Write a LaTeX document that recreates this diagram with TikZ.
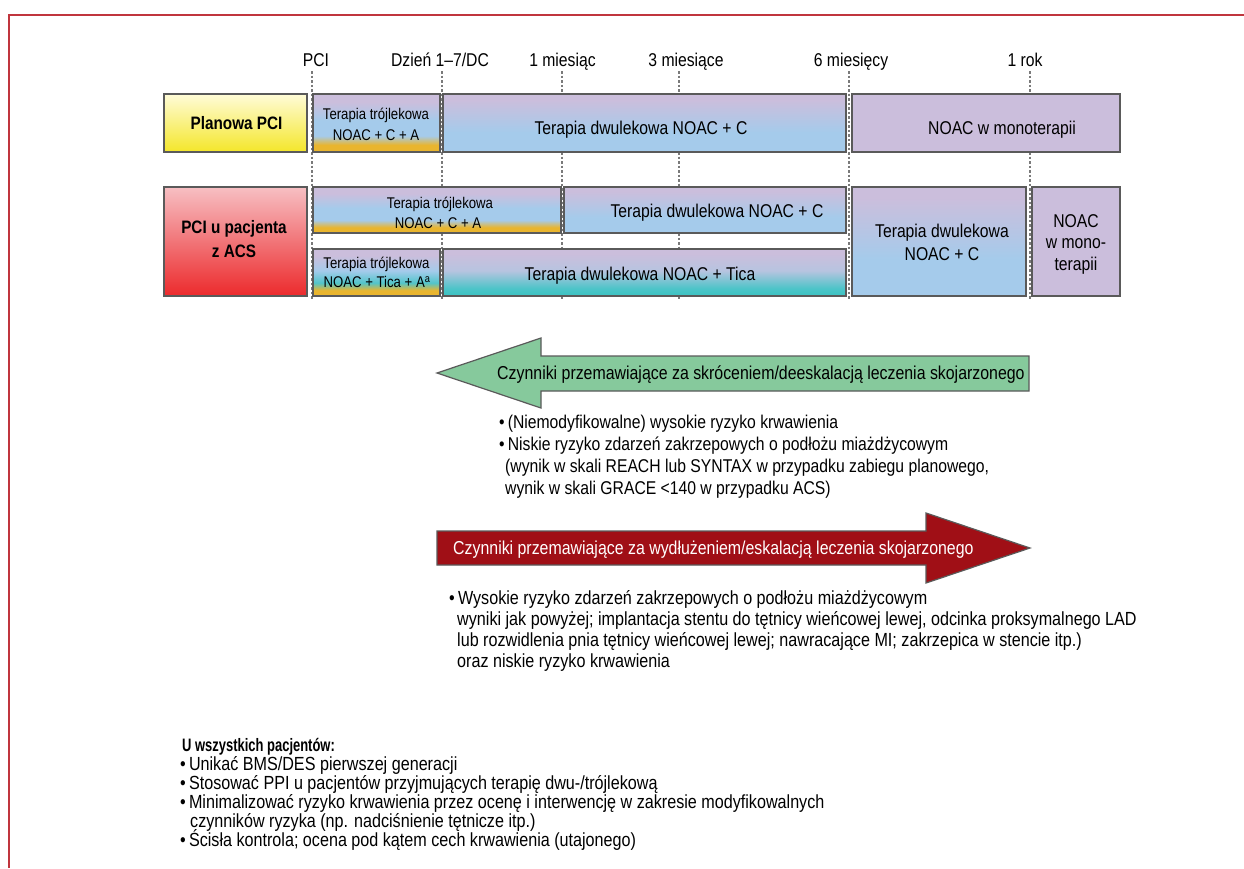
\documentclass[tikz,border=0pt]{standalone}
\usepackage{fontspec}
\setmainfont{Liberation Sans}[FakeStretch=0.85]
\newfontfamily\narrowfont{Liberation Sans}[FakeStretch=0.72]
\usetikzlibrary{calc}

\definecolor{framered}{HTML}{C0353D}
\definecolor{lav}{HTML}{CBBEDC}
\definecolor{lblue}{HTML}{A5CBEB}
\definecolor{gold}{HTML}{E9B52E}
\definecolor{tealc}{HTML}{3CC3C2}
\definecolor{ylwtop}{HTML}{FFFCD8}
\definecolor{ylwbot}{HTML}{F4E62A}
\definecolor{pinktop}{HTML}{F7BFC3}
\definecolor{redbot}{HTML}{EC2A2C}
\definecolor{greenarr}{HTML}{86C99C}
\definecolor{redarr}{HTML}{A00F16}
\definecolor{edgegray}{HTML}{5A5A5A}
\definecolor{dashgray}{HTML}{7A7A7A}
\definecolor{midblue}{HTML}{B7C4E0}

% vertical shadings: the node box maps to 25bp (bottom) .. 75bp (top)
\pgfdeclareverticalshading{tripleshade}{100bp}{color(0bp)=(gold); color(25bp)=(gold); color(31bp)=(gold); color(39bp)=(lblue); color(52bp)=(lblue); color(68bp)=(lav); color(100bp)=(lav)}
\pgfdeclareverticalshading{ticatripleshade}{100bp}{color(0bp)=(gold); color(25bp)=(gold); color(31bp)=(gold); color(39bp)=(tealc!80!lblue); color(52bp)=(lblue); color(68bp)=(lav); color(100bp)=(lav)}
\pgfdeclareverticalshading{dualshade}{100bp}{color(0bp)=(lblue); color(25bp)=(lblue); color(42bp)=(lblue); color(70bp)=(lav); color(100bp)=(lav)}
\pgfdeclareverticalshading{ticashade}{100bp}{color(0bp)=(tealc); color(25bp)=(tealc); color(33bp)=(tealc!85!lblue); color(52bp)=(midblue); color(70bp)=(lav); color(100bp)=(lav)}
\pgfdeclareverticalshading{planshade}{100bp}{color(0bp)=(ylwbot); color(25bp)=(ylwbot); color(75bp)=(ylwtop); color(100bp)=(ylwtop)}
\pgfdeclareverticalshading{acsshade}{100bp}{color(0bp)=(redbot); color(25bp)=(redbot); color(75bp)=(pinktop); color(100bp)=(pinktop)}

\tikzset{
  seg/.style={draw=edgegray, line width=1.2pt, inner sep=0pt, outer sep=0pt},
  mono/.style={seg, fill=lav},
  txt/.style={inner sep=0pt, anchor=base, font=\fontsize{18.5}{22}\selectfont},
  smalltxt/.style={inner sep=0pt, anchor=base, font=\fontsize{15.5}{19}\selectfont},
  headtxt/.style={inner sep=0pt, anchor=base, font=\fontsize{18}{22}\selectfont\bfseries},
  ticklabel/.style={inner sep=0pt, anchor=base, font=\fontsize{18.5}{22}\selectfont},
  tick/.style={draw=dashgray, line width=1.4pt, dash pattern=on 2.5pt off 2pt},
  note/.style={inner sep=0pt, anchor=base west, font=\fontsize{19}{22}\selectfont},
  arrowtxt/.style={inner sep=0pt, anchor=base west, font=\fontsize{18.7}{22}\selectfont},
}

\begin{document}
\begin{tikzpicture}[x=1pt, y=-1pt]
\useasboundingbox (0,0) rectangle (1244,868);
\fill[white] (0,0) rectangle (1244,868);

% outer frame (left and top edges)
\draw[framered, line width=2pt] (9,868) -- (9,14.5) -- (1244,14.5);

% time axis labels
\node[ticklabel] (lPCI) at (316,66) {PCI};
\node[ticklabel] (lDC) at (440,66) {Dzień 1–7/DC};
\node[ticklabel] (l1m) at (562.5,66) {1 miesiąc};
\node[ticklabel] (l3m) at (686,66) {3 miesiące};
\node[ticklabel] (l6m) at (851,66) {6 miesięcy};
\node[ticklabel] (l1y) at (1025,66) {1 rok};

% dashed time markers
\coordinate (aPCI) at (312,71);  \coordinate (bPCI) at (312,300);
\coordinate (aDC)  at (442,71);  \coordinate (bDC)  at (442,300);
\coordinate (a1m)  at (562,71);  \coordinate (b1m)  at (562,300);
\coordinate (a3m)  at (679,71);  \coordinate (b3m)  at (679,300);
\coordinate (a6m)  at (849,71);  \coordinate (b6m)  at (849,300);
\coordinate (a1y)  at (1030,71); \coordinate (b1y)  at (1030,300);
\foreach \t in {PCI,DC,1m,3m,6m,1y} \draw[tick] (a\t) -- (b\t);

% row labels
\node[seg, shading=planshade, minimum width=143, minimum height=58] (plan) at (235.5,123) {};
\node[seg, shading=acsshade, minimum width=143, minimum height=109] (acs) at (235.5,241.5) {};
\node[headtxt] (planT) at (236.5,129) {Planowa PCI};
\node[headtxt] (acsT1) at (234,233) {PCI u pacjenta};
\node[headtxt] (acsT2) at (234,257) {z ACS};

% elective PCI row
\node[seg, shading=tripleshade, minimum width=127, minimum height=58] (t1) at (376.5,123) {};
\node[seg, shading=dualshade, minimum width=403, minimum height=58] (d1) at (644.5,123) {};
\node[mono, minimum width=268, minimum height=58] (m1) at (986,123) {};
\node[smalltxt] (t1a) at (376,119.5) {Terapia trójlekowa};
\node[smalltxt] (t1b) at (376,140) {NOAC + C + A};
\node[txt] (d1a) at (641,134) {Terapia dwulekowa NOAC + C};
\node[txt] (m1a) at (1002,134) {NOAC w monoterapii};

% ACS rows
\node[seg, shading=tripleshade, minimum width=248, minimum height=46] (t2) at (437,210) {};
\node[seg, shading=dualshade, minimum width=282, minimum height=46] (d2) at (705,210) {};
\node[seg, shading=ticatripleshade, minimum width=127, minimum height=47] (t3) at (376.5,272.5) {};
\node[seg, shading=ticashade, minimum width=403, minimum height=47] (d3) at (644.5,272.5) {};
\node[seg, shading=dualshade, minimum width=174, minimum height=109] (d4) at (939,241.5) {};
\node[mono, minimum width=88, minimum height=109] (m2) at (1076,241.5) {};

\node[smalltxt] (t2a) at (440,208) {Terapia trójlekowa};
\node[smalltxt] (t2b) at (438,228) {NOAC + C + A};
\node[txt] (d2a) at (717,217) {Terapia dwulekowa NOAC + C};
\node[smalltxt] (t3a) at (376.5,268) {Terapia trójlekowa};
\node[smalltxt] (t3b) at (377,287.5) {NOAC + Tica + A\textsuperscript{a}};
\node[txt] (d3a) at (640,280) {Terapia dwulekowa NOAC + Tica};
\node[txt] (d4a) at (942,237) {Terapia dwulekowa};
\node[txt] (d4b) at (942,260) {NOAC + C};
\node[txt] (m2a) at (1076,227) {NOAC};
\node[txt] (m2b) at (1076,248.5) {w mono-};
\node[txt] (m2c) at (1076,270) {terapii};

% de-escalation arrow (pointing left)
\draw[edgegray, line width=1.2pt, fill=greenarr]
  (437,373) -- (541,338) -- (541,356) -- (1029,356) -- (1029,391) -- (541,391) -- (541,408) -- cycle;
\node[arrowtxt] (gT) at (497,379.5) {Czynniki przemawiające za skróceniem/deeskalacją leczenia skojarzonego};

\node[note, font=\fontsize{18.5}{22}\selectfont] (g1) at (499,428) {•\,(Niemodyfikowalne) wysokie ryzyko krwawienia};
\node[note, font=\fontsize{18.5}{22}\selectfont] (g2) at (499,450) {•\,Niskie ryzyko zdarzeń zakrzepowych o podłożu miażdżycowym};
\node[note, font=\fontsize{18.5}{22}\selectfont] (g3) at (505,472) {(wynik w skali REACH lub SYNTAX w przypadku zabiegu planowego,};
\node[note, font=\fontsize{18.5}{22}\selectfont] (g4) at (505,494) {wynik w skali GRACE <140 w przypadku ACS)};

% escalation arrow (pointing right)
\draw[edgegray, line width=1.2pt, fill=redarr]
  (437,531) -- (926,531) -- (926,513) -- (1030,548) -- (926,583) -- (926,565) -- (437,565) -- cycle;
\node[arrowtxt, text=white] (rT) at (453,554.5) {Czynniki przemawiające za wydłużeniem/eskalacją leczenia skojarzonego};

\node[note] (r1) at (449,604) {•\,Wysokie ryzyko zdarzeń zakrzepowych o podłożu miażdżycowym};
\node[note] (r2) at (457,625) {wyniki jak powyżej; implantacja stentu do tętnicy wieńcowej lewej, odcinka proksymalnego LAD};
\node[note] (r3) at (457,646) {lub rozwidlenia pnia tętnicy wieńcowej lewej; nawracające MI; zakrzepica w stencie itp.)};
\node[note] (r4) at (457,667) {oraz niskie ryzyko krwawienia};

% general recommendations
\node[note, font=\fontsize{18}{20}\selectfont\narrowfont\bfseries] (uT) at (182,751) {U wszystkich pacjentów:};
\node[note] (u1) at (180,770) {•\,Unikać BMS/DES pierwszej generacji};
\node[note] (u2) at (180,789) {•\,Stosować PPI u pacjentów przyjmujących terapię dwu-/trójlekową};
\node[note] (u3) at (180,808) {•\,Minimalizować ryzyko krwawienia przez ocenę i interwencję w zakresie modyfikowalnych};
\node[note] (u4) at (190,827) {czynników ryzyka (np. nadciśnienie tętnicze itp.)};
\node[note] (u5) at (180,846) {•\,Ścisła kontrola; ocena pod kątem cech krwawienia (utajonego)};
\end{tikzpicture}
\end{document}
